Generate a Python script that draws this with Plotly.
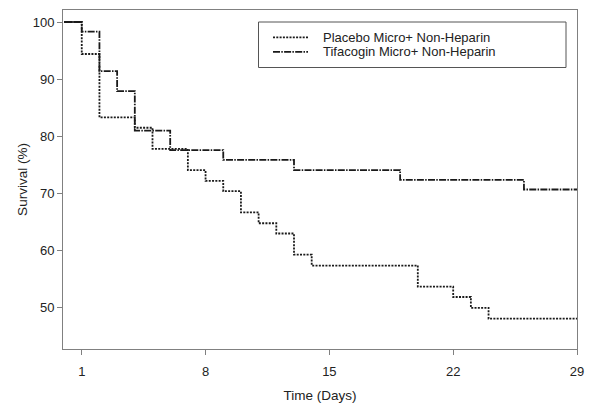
import plotly.graph_objects as go

# Kaplan-Meier step data (day of event, survival % after event)
placebo_days = [0, 1, 2, 4, 5, 7, 8, 9, 10, 11, 12, 13, 14, 20, 22, 23, 24, 29]
placebo_surv = [100, 94.4, 83.3, 81.5, 77.8, 74.1, 72.2, 70.4, 66.7, 64.8, 63.0, 59.3, 57.4, 53.7, 51.9, 50.0, 48.1, 48.1]

tifa_days = [0, 1, 2, 3, 4, 6, 9, 13, 19, 26, 29]
tifa_surv = [100, 98.3, 91.4, 87.9, 81.0, 77.6, 75.9, 74.1, 72.4, 70.7, 70.7]

x_ticks = [1, 8, 15, 22, 29]
y_ticks = [50, 60, 70, 80, 90, 100]

series_names = ["Placebo Micro+ Non-Heparin", "Tifacogin Micro+ Non-Heparin"]

font_family = "Liberation Sans, Arial, sans-serif"
axis_gray = "#808080"
line_color = "#1a1a1a"
placebo_dash = "2px,1.3px"
tifa_dash = "7px,1.3px,1.5px,1.3px"

W, H = 591, 405
ML, MR, MT, MB = 63, 14, 10, 56

fig = go.Figure()
fig.add_trace(go.Scatter(
    x=placebo_days, y=placebo_surv, mode="lines", line_shape="hv",
    name=series_names[0], showlegend=False,
    line=dict(color=line_color, width=1.8, dash=placebo_dash),
))
fig.add_trace(go.Scatter(
    x=tifa_days, y=tifa_surv, mode="lines", line_shape="hv",
    name=series_names[1], showlegend=False,
    line=dict(color=line_color, width=1.8, dash=tifa_dash),
))

# legend box drawn in paper coordinates (pixel -> paper helpers)
pw, ph = W - ML - MR, H - MT - MB
def px(xp):
    return (xp - ML) / pw
def py(yp):
    return 1 - (yp - MT) / ph

shapes = [
    dict(type="rect", xref="paper", yref="paper",
         x0=px(258.5), x1=px(566), y0=py(22), y1=py(67.5),
         line=dict(color="#555", width=1), fillcolor="white", layer="above"),
]
annotations = []
for i, (name, dash) in enumerate(zip(series_names, [placebo_dash, tifa_dash])):
    yc = 37.3 + i * 14.6
    shapes.append(dict(type="line", xref="paper", yref="paper",
                       x0=px(273), x1=px(308), y0=py(yc), y1=py(yc),
                       line=dict(color=line_color, width=1.8, dash=dash), layer="above"))
    annotations.append(dict(xref="paper", yref="paper", x=px(322), y=py(yc),
                            xanchor="left", yanchor="middle", showarrow=False,
                            borderpad=0,
                            text=name, font=dict(size=13, color="#222")))

fig.update_layout(
    width=W, height=H,
    margin=dict(l=ML, r=MR, t=MT, b=MB),
    paper_bgcolor="white", plot_bgcolor="white",
    font=dict(family=font_family, size=13, color="#222"),
    showlegend=False,
    shapes=shapes, annotations=annotations,
)
fig.update_xaxes(
    range=[-0.06, 29], tickvals=x_ticks, ticktext=[str(t) for t in x_ticks],
    showgrid=False, zeroline=False, automargin=False,
    showline=True, mirror=True, linecolor=axis_gray, linewidth=1,
    ticks="outside", ticklen=5, tickcolor=axis_gray,
    ticklabelstandoff=5,
    title=dict(text="Time (Days)", standoff=12, font=dict(size=13.5)),
    tickfont=dict(size=13),
)
fig.update_yaxes(
    range=[42.8, 102.1], tickvals=y_ticks,
    showgrid=False, zeroline=False, automargin=False,
    showline=True, mirror=True, linecolor=axis_gray, linewidth=1,
    ticks="outside", ticklen=5, tickcolor=axis_gray,
    title=dict(text="Survival (%)", standoff=1, font=dict(size=13.5)),
    tickfont=dict(size=13),
)

fig.write_html(
    "out.html",
    config={"displayModeBar": False},
    post_script="document.body.style.margin='0';document.body.style.overflow='hidden';",
)
